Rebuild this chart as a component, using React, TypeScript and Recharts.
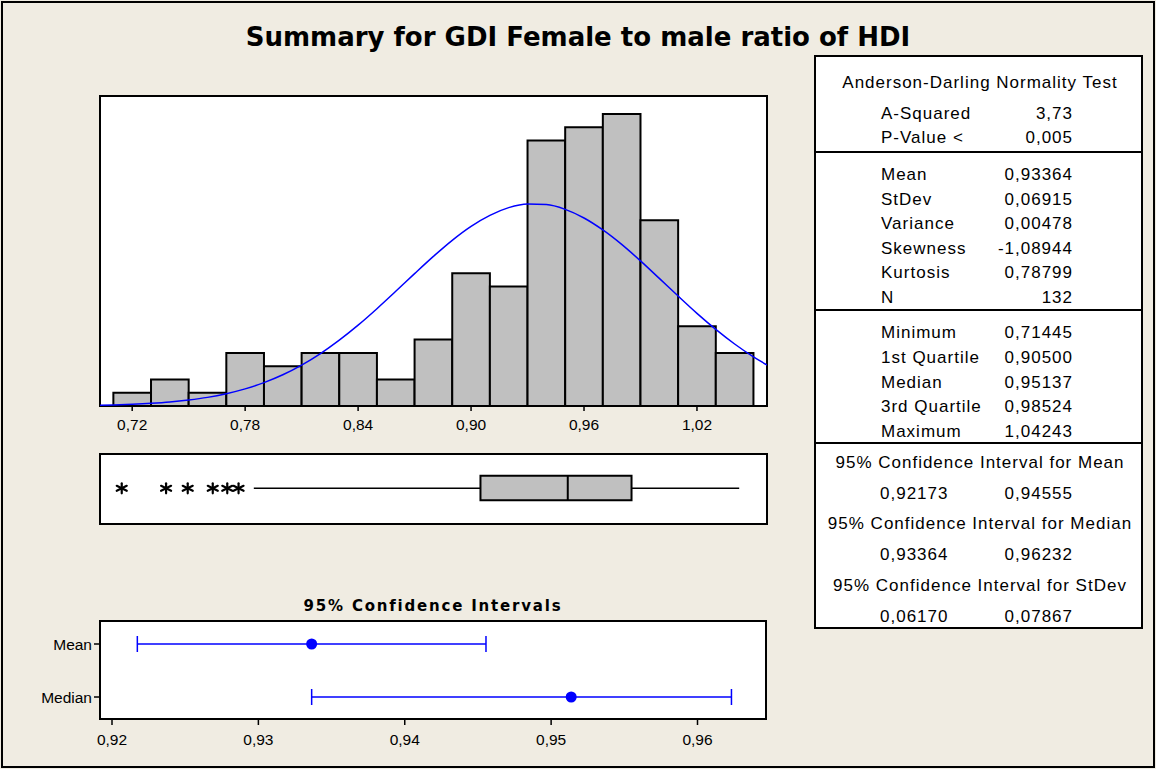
import React from "react";
import {
  ComposedChart,
  XAxis,
  YAxis,
  Line,
  Scatter,
  ErrorBar,
  ReferenceArea,
  ReferenceLine,
} from "recharts";

// Minitab-style graphical summary, rebuilt with recharts

const title = "Summary for GDI Female to male ratio of HDI";
const ciTitle = "95% Confidence Intervals";

// histogram: bin centres (width 0.02) and counts
const binCenters = [
  0.72, 0.74, 0.76, 0.78, 0.8, 0.82, 0.84, 0.86, 0.88, 0.9, 0.92, 0.94, 0.96,
  0.98, 1.0, 1.02, 1.04,
];
const binCounts = [1, 2, 1, 4, 3, 4, 4, 2, 5, 10, 9, 20, 21, 22, 14, 6, 4];
const binWidth = 0.02;
const histTicks = [0.72, 0.78, 0.84, 0.9, 0.96, 1.02];

// fitted normal curve (count scale)
const curveX = [
  0.7, 0.71, 0.72, 0.73, 0.74, 0.75, 0.76, 0.77, 0.78, 0.79, 0.8, 0.81, 0.82,
  0.83, 0.84, 0.85, 0.86, 0.87, 0.88, 0.89, 0.9, 0.91, 0.92, 0.93, 0.94, 0.95,
  0.96, 0.97, 0.98, 0.99, 1.0, 1.01, 1.02, 1.03, 1.04, 1.05, 1.06,
];
const curveY = [
  0.05, 0.08, 0.13, 0.2, 0.3, 0.45, 0.65, 0.93, 1.29, 1.76, 2.35, 3.08, 3.95,
  4.96, 6.09, 7.33, 8.64, 9.97, 11.27, 12.48, 13.53, 14.36, 14.94, 15.21, 15.17,
  14.81, 14.16, 13.26, 12.17, 10.93, 9.61, 8.28, 6.98, 5.77, 4.67, 3.7, 2.87,
];

// boxplot
const q1 = 0.905;
const q2 = 0.95137;
const q3 = 0.98524;
const whiskerLow = 0.7846;
const whiskerHigh = 1.04243;
const outliers = [0.71445, 0.738, 0.7495, 0.7628, 0.7705, 0.7765];

// confidence intervals
const ciNames = ["Mean", "Median"];
const ciCenters = [0.93364, 0.95137];
const ciLows = [0.92173, 0.93364];
const ciHighs = [0.94555, 0.96232];
const ciTicks = [0.92, 0.93, 0.94, 0.95, 0.96];

// stats panel
const adHeader = "Anderson-Darling Normality Test";
const adLabels = ["A-Squared", "P-Value <"];
const adValues = ["3,73", "0,005"];
const momentLabels = ["Mean", "StDev", "Variance", "Skewness", "Kurtosis", "N"];
const momentValues = ["0,93364", "0,06915", "0,00478", "-1,08944", "0,78799", "132"];
const quantLabels = ["Minimum", "1st Quartile", "Median", "3rd Quartile", "Maximum"];
const quantValues = ["0,71445", "0,90500", "0,95137", "0,98524", "1,04243"];
const intervalTitles = [
  "95% Confidence Interval for Mean",
  "95% Confidence Interval for Median",
  "95% Confidence Interval for StDev",
];
const intervalLows = ["0,92173", "0,93364", "0,06170"];
const intervalHighs = ["0,94555", "0,96232", "0,07867"];

const FONT = "'Liberation Sans', Arial, sans-serif";
const BOLD_FONT = "'DejaVu Sans', Verdana, sans-serif";
const BG = "#f0ece2";
const BLUE = "#0000ff";
const BAR = "#c0c0c0";

const HIST_DOMAIN: [number, number] = [0.7029, 1.0572];
const HIST_YMAX = 23.35;
const CI_DOMAIN: [number, number] = [0.91918, 0.96468];
const CI_YDOMAIN: [number, number] = [0.585, 2.434];

const fmt2 = (v: number) => v.toFixed(2).replace(".", ",");

const curveData = curveX.map((x, i) => ({ x, y: curveY[i] }));
const outlierData = outliers.map((x) => ({ x, y: 0.51 }));
const ciData = ciNames.map((name, i) => ({
  name,
  x: ciCenters[i],
  y: ciNames.length - i,
  err: [ciCenters[i] - ciLows[i], ciHighs[i] - ciCenters[i]],
}));

const tickStyle = { fontSize: 15.5, fill: "#000", fontFamily: FONT };

function Asterisk(props: any) {
  const { cx, cy } = props;
  const r = 5;
  return (
    <g stroke="#000" strokeWidth={2.2} strokeLinecap="round">
      <line x1={cx} y1={cy - r} x2={cx} y2={cy + r} />
      <line x1={cx - r} y1={cy - r * 0.5} x2={cx + r} y2={cy + r * 0.5} />
      <line x1={cx - r} y1={cy + r * 0.5} x2={cx + r} y2={cy - r * 0.5} />
    </g>
  );
}

function CiDot(props: any) {
  const { cx, cy } = props;
  return <circle cx={cx} cy={cy} r={5.5} fill={BLUE} />;
}

function StatsPanel() {
  const left = 815;
  const top = 56;
  const w = 327;
  const h = 572;
  const labelX = 881;
  const valueX = 1073;
  const midX = 980;
  const rowGap = 24.5;
  const textProps = {
    fontFamily: FONT,
    fontSize: 17,
    letterSpacing: 1,
    fill: "#000",
  };
  return (
    <g>
      <rect x={left} y={top} width={w} height={h} fill="#fff" stroke="#000" strokeWidth={2} />
      <line x1={left} x2={left + w} y1={152} y2={152} stroke="#000" strokeWidth={2} />
      <line x1={left} x2={left + w} y1={310} y2={310} stroke="#000" strokeWidth={2} />
      <line x1={left} x2={left + w} y1={443} y2={443} stroke="#000" strokeWidth={2} />

      <text {...textProps} x={midX} y={88} textAnchor="middle">{adHeader}</text>
      {adLabels.map((l, i) => (
        <g key={l}>
          <text {...textProps} x={labelX} y={118.7 + i * rowGap}>{l}</text>
          <text {...textProps} x={valueX} y={118.7 + i * rowGap} textAnchor="end">{adValues[i]}</text>
        </g>
      ))}
      {momentLabels.map((l, i) => (
        <g key={l}>
          <text {...textProps} x={labelX} y={180.3 + i * rowGap}>{l}</text>
          <text {...textProps} x={valueX} y={180.3 + i * rowGap} textAnchor="end">{momentValues[i]}</text>
        </g>
      ))}
      {quantLabels.map((l, i) => (
        <g key={l}>
          <text {...textProps} x={labelX} y={338.3 + i * 24.6}>{l}</text>
          <text {...textProps} x={valueX} y={338.3 + i * 24.6} textAnchor="end">{quantValues[i]}</text>
        </g>
      ))}
      {intervalTitles.map((t, i) => {
        const y = 467.7 + i * 61.6;
        return (
          <g key={t}>
            <text {...textProps} x={midX} y={y} textAnchor="middle">{t}</text>
            <text {...textProps} x={labelX - 1} y={y + 31}>{intervalLows[i]}</text>
            <text {...textProps} x={valueX} y={y + 31} textAnchor="end">{intervalHighs[i]}</text>
          </g>
        );
      })}
    </g>
  );
}

export default function App() {
  return (
    <div style={{ position: "relative", width: 1156, height: 769, background: BG, overflow: "hidden" }}>
      <style>{"body{margin:0}"}</style>
      <svg width={1156} height={769} style={{ position: "absolute", left: 0, top: 0 }}>
        <rect x={2} y={2} width={1152} height={765} fill="none" stroke="#000" strokeWidth={2} />
        <text x={578} y={46} textAnchor="middle" fontFamily={BOLD_FONT} fontWeight="bold" fontSize={26} fill="#000">
          {title}
        </text>
        <text x={433} y={611} textAnchor="middle" fontFamily={BOLD_FONT} fontWeight="bold" fontSize={15} letterSpacing={1.8} fill="#000">
          {ciTitle}
        </text>
        <StatsPanel />
      </svg>

      {/* histogram with normal fit */}
      <div style={{ position: "absolute", left: 0, top: 0 }}>
        <ComposedChart width={800} height={440} data={curveData} margin={{ top: 96, left: 100, right: 33, bottom: 4 }}>
          <XAxis
            type="number"
            dataKey="x"
            domain={HIST_DOMAIN}
            allowDataOverflow
            ticks={histTicks}
            interval={0}
            tickFormatter={fmt2}
            axisLine={false}
            tickLine={{ stroke: "#000", strokeWidth: 1.5 }}
            tickSize={5}
            tickMargin={8}
            height={30}
            tick={tickStyle}
          />
          <YAxis type="number" domain={[0, HIST_YMAX]} allowDataOverflow hide />
          <ReferenceArea
            x1={HIST_DOMAIN[0]}
            x2={HIST_DOMAIN[1]}
            y1={0}
            y2={HIST_YMAX}
            ifOverflow="visible"
            fill="#fff"
            fillOpacity={1}
            stroke="#000"
            strokeWidth={2}
          />
          {binCenters.map((c, i) => (
            <ReferenceArea
              key={c}
              x1={c - binWidth / 2}
              x2={c + binWidth / 2}
              y1={0}
              y2={binCounts[i]}
              ifOverflow="visible"
              fill={BAR}
              fillOpacity={1}
              stroke="#000"
              strokeWidth={2}
            />
          ))}
          <Line
            type="monotone"
            dataKey="y"
            stroke={BLUE}
            strokeWidth={1.5}
            dot={false}
            isAnimationActive={false}
          />
        </ComposedChart>
      </div>

      {/* boxplot */}
      <div style={{ position: "absolute", left: 0, top: 444 }}>
        <ComposedChart width={800} height={90} margin={{ top: 10, left: 100, right: 33, bottom: 10 }}>
          <XAxis type="number" dataKey="x" domain={HIST_DOMAIN} allowDataOverflow hide />
          <YAxis type="number" dataKey="y" domain={[0, 1]} allowDataOverflow hide />
          <ReferenceArea
            x1={HIST_DOMAIN[0]}
            x2={HIST_DOMAIN[1]}
            y1={0}
            y2={1}
            ifOverflow="visible"
            fill="#fff"
            fillOpacity={1}
            stroke="#000"
            strokeWidth={2}
          />
          <ReferenceLine
            segment={[{ x: whiskerLow, y: 0.51 }, { x: q1, y: 0.51 }]}
            stroke="#000"
            strokeWidth={1.5}
            ifOverflow="visible"
          />
          <ReferenceLine
            segment={[{ x: q3, y: 0.51 }, { x: whiskerHigh, y: 0.51 }]}
            stroke="#000"
            strokeWidth={1.5}
            ifOverflow="visible"
          />
          <ReferenceArea
            x1={q1}
            x2={q3}
            y1={0.34}
            y2={0.69}
            ifOverflow="visible"
            fill={BAR}
            fillOpacity={1}
            stroke="#000"
            strokeWidth={2}
          />
          <ReferenceLine
            segment={[{ x: q2, y: 0.34 }, { x: q2, y: 0.69 }]}
            stroke="#000"
            strokeWidth={2}
            ifOverflow="visible"
          />
          <Scatter data={outlierData} shape={Asterisk} isAnimationActive={false} />
        </ComposedChart>
      </div>

      {/* confidence intervals */}
      <div style={{ position: "absolute", left: 0, top: 611 }}>
        <ComposedChart width={800} height={140} margin={{ top: 10, left: 40, right: 34, bottom: 2 }}>
          <XAxis
            type="number"
            dataKey="x"
            domain={CI_DOMAIN}
            allowDataOverflow
            ticks={ciTicks}
            interval={0}
            tickFormatter={fmt2}
            axisLine={false}
            tickLine={{ stroke: "#000", strokeWidth: 1.5 }}
            tickSize={6}
            tickMargin={9}
            height={30}
            tick={tickStyle}
          />
          <YAxis
            type="number"
            dataKey="y"
            domain={CI_YDOMAIN}
            allowDataOverflow
            ticks={[1, 2]}
            interval={0}
            tickFormatter={(v: number) => ciNames[ciNames.length - v]}
            axisLine={false}
            tickLine={{ stroke: "#000", strokeWidth: 1.5 }}
            tickSize={6}
            tickMargin={2}
            width={60}
            tick={tickStyle}
          />
          <ReferenceArea
            x1={CI_DOMAIN[0]}
            x2={CI_DOMAIN[1]}
            y1={CI_YDOMAIN[0]}
            y2={CI_YDOMAIN[1]}
            ifOverflow="visible"
            fill="#fff"
            fillOpacity={1}
            stroke="#000"
            strokeWidth={2}
          />
          <Scatter data={ciData} shape={CiDot} isAnimationActive={false}>
            <ErrorBar dataKey="err" direction="x" stroke={BLUE} strokeWidth={1.5} width={8} />
          </Scatter>
        </ComposedChart>
      </div>
    </div>
  );
}
